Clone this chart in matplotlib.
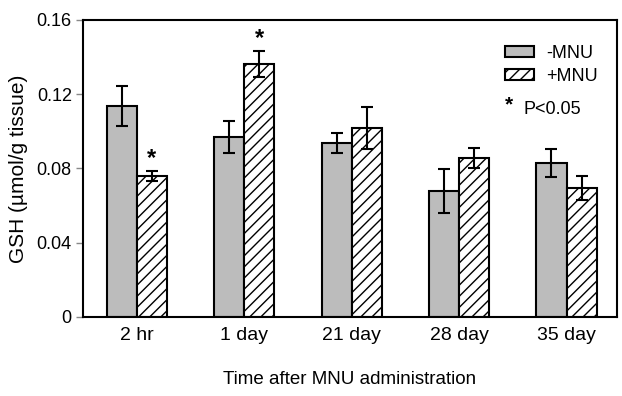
import numpy as np
import matplotlib.pyplot as plt
from matplotlib.patches import Patch

plt.rcParams['font.family'] = ['Liberation Sans', 'DejaVu Sans']
plt.rcParams['hatch.linewidth'] = 1.0

# GSH w wątrobie: kontrola (-MNU) i po podaniu MNU (+MNU)
czasy = ['2 hr', '1 day', '21 day', '28 day', '35 day']
bez_mnu = [0.1137, 0.0970, 0.0937, 0.0679, 0.0830]
bez_mnu_sd = [0.0110, 0.0085, 0.0054, 0.0118, 0.0075]
z_mnu = [0.0760, 0.1363, 0.1018, 0.0857, 0.0695]
z_mnu_sd = [0.0027, 0.0070, 0.0113, 0.0054, 0.0065]
istotne = [True, True, False, False, False]  # P<0.05

x = np.arange(len(czasy))
w = 0.28

fig = plt.figure(figsize=(6.22, 3.96), dpi=100)
ax = fig.add_axes([0.1334, 0.1995, 0.8586, 0.75])

err_kw = dict(ecolor='black', elinewidth=1.5, capsize=4, capthick=1.5)
ax.bar(x - w / 2, bez_mnu, w, yerr=bez_mnu_sd, color='#bcbcbc',
       edgecolor='black', linewidth=1.5, error_kw=err_kw, label='-MNU')
ax.bar(x + w / 2, z_mnu, w, yerr=z_mnu_sd, color='white', hatch='///',
       edgecolor='black', linewidth=1.5, error_kw=err_kw, label='+MNU')

# gwiazdki nad istotnymi słupkami +MNU
for i in range(len(czasy)):
    if istotne[i]:
        ax.text(x[i] + w / 2, z_mnu[i] + z_mnu_sd[i] + 0.0005, '*',
                ha='center', va='bottom', fontsize=17, fontweight='bold')

ax.set_xlim(-0.5, 4.47)
ax.set_ylim(0, 0.16)
ax.set_yticks([0, 0.04, 0.08, 0.12, 0.16])
ax.set_yticklabels(['0', '0.04', '0.08', '0.12', '0.16'])
ax.set_xticks(x)
ax.set_xticklabels(czasy)
ax.tick_params(axis='x', length=0, pad=7, labelsize=14)
ax.tick_params(axis='y', direction='out', length=5, width=1, color='#888888',
               labelsize=13, pad=3)
for s in ax.spines.values():
    s.set_linewidth(1.5)

ax.set_ylabel('GSH (\u00b5mol/g tissue)', fontsize=15, labelpad=6)
ax.set_xlabel('Time after MNU administration', fontsize=13.5, labelpad=20)

uchwyty = [Patch(facecolor='#bcbcbc', edgecolor='black', linewidth=1.5, label='-MNU'),
           Patch(facecolor='white', edgecolor='black', hatch='///', linewidth=1.5,
                 label='+MNU')]
ax.legend(handles=uchwyty, loc='upper right', bbox_to_anchor=(0.995, 0.97),
          frameon=False, fontsize=13, handlelength=1.6, handleheight=0.55,
          handletextpad=0.7, labelspacing=0.3)
ax.text(0.797, 0.715, '*', transform=ax.transAxes, fontsize=15, fontweight='bold',
        ha='center', va='center')
ax.text(0.825, 0.70, 'P<0.05', transform=ax.transAxes, fontsize=13, ha='left', va='center')

fig.savefig('out.png', dpi=100)
